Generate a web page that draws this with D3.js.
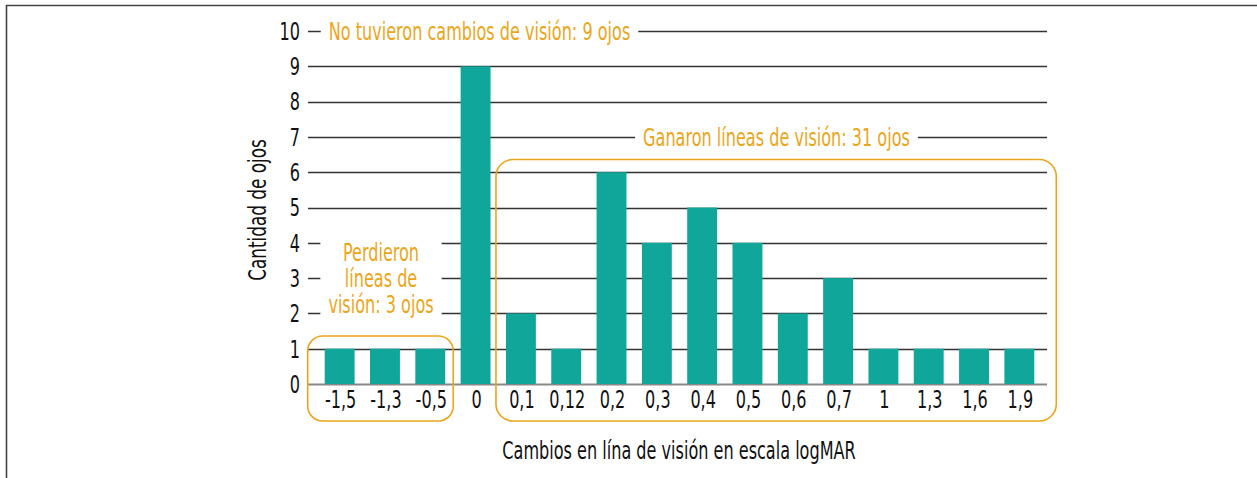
<!DOCTYPE html>
<html><head><meta charset="utf-8">
<script src="https://cdn.jsdelivr.net/npm/d3@7"></script>
<style>
body{margin:0;background:#fff;}
text{font-family:"DejaVu Sans Condensed","DejaVu Sans",sans-serif;font-stretch:condensed;}
</style></head>
<body><svg id="c" width="1257" height="478"></svg>
<script>
const categories = ["-1,5","-1,3","-0,5","0","0,1","0,12","0,2","0,3","0,4","0,5","0,6","0,7","1","1,3","1,6","1,9"];
const counts = [1,1,1,9,2,1,6,4,5,4,2,3,1,1,1,1];
const yTicks = [0,1,2,3,4,5,6,7,8,9,10];
const groupLabels = [
  ["No tuvieron cambios de visión: 9 ojos"],
  ["Ganaron líneas de visión: 31 ojos"],
  ["Perdieron","líneas de","visión: 3 ojos"]
];
const groupFrom = ["0","0,1","-1,5"];
const groupTo = ["0","1,9","-0,5"];
const groupLevel = [10, 7, 3];
const xTitle = "Cambios en lína de visión en escala logMAR";
const yTitle = "Cantidad de ojos";

const teal = "#11a69a", orange = "#eaa61b", ink = "#111";
const FS = 24, SX = 0.745;
const svg = d3.select("#c");

// frame
svg.append("path").attr("d","M6.5,478 V5.5 H1257").attr("fill","none").attr("stroke","#444").attr("stroke-width",1.6);

const x = d3.scaleBand().domain(categories).range([317,1042]).paddingInner(0.34).paddingOuter(0.17);
const y = d3.scaleLinear().domain([0,10]).range([384,31]);
const gx0 = 308, gx1 = 1047;

function ctext(parent, tx, ty, str, anchor, color, sx, rot){
  const g = parent.append("g").attr("transform",`translate(${tx},${ty})${rot?` rotate(${rot})`:""} scale(${sx},1)`);
  g.append("text").attr("x",0).attr("y",0).attr("text-anchor",anchor)
    .attr("font-size",FS).attr("fill",color).text(str);
  return g;
}

// gridlines
svg.append("g").selectAll("line").data(yTicks).join("line")
  .attr("x1",gx0).attr("x2",gx1).attr("y1",d=>Math.round(y(d))+0.5).attr("y2",d=>Math.round(y(d))+0.5)
  .attr("stroke",d=>d===0?"#888":"#333").attr("stroke-width",d=>d===0?2:1.3);

// y tick labels
const gy = svg.append("g");
yTicks.forEach(d=>ctext(gy, 300, y(d)+8.8, d, "end", ink, SX));

// bars
svg.append("g").selectAll("rect").data(categories).join("rect")
  .attr("x",d=>x(d)).attr("width",x.bandwidth())
  .attr("y",(d,i)=>y(counts[i])).attr("height",(d,i)=>y(0)-y(counts[i]))
  .attr("fill",teal);

// x tick labels
const gxl = svg.append("g");
categories.forEach(d=>ctext(gxl, x(d)+x.bandwidth()/2+1, 408, d, "middle", ink, SX));

// axis titles
ctext(svg, 679, 459, xTitle, "middle", ink, SX);
ctext(svg, 266, 210, yTitle, "middle", ink, 0.78, -90);

// group boxes
const bw = x.bandwidth();
svg.append("rect").attr("x",x(groupFrom[2])-17).attr("y",336)
  .attr("width",x(groupTo[2])+bw+8-(x(groupFrom[2])-17)).attr("height",85)
  .attr("rx",15).attr("fill","none").attr("stroke",orange).attr("stroke-width",1.6);
svg.append("rect").attr("x",x(groupFrom[1])-10).attr("y",159.5)
  .attr("width",x(groupTo[1])+bw+22-(x(groupFrom[1])-10)).attr("height",421-159.5)
  .attr("rx",17).attr("fill","none").attr("stroke",orange).attr("stroke-width",1.6);

// annotations
function annot(lines, cx, cy, lh){
  const g = svg.append("g");
  const bg = g.append("rect").attr("fill","#fff");
  lines.forEach((s,i)=>ctext(g, cx, cy+(i-(lines.length-1)/2)*lh+8.8, s, "middle", orange, SX));
  const bb = g.node().getBBox();
  bg.attr("x",bb.x-8).attr("y",bb.y-2).attr("width",bb.width+16).attr("height",bb.height+4);
}
annot(groupLabels[0], 479.5, y(groupLevel[0]), 26);
annot(groupLabels[1], 776.5, y(groupLevel[1]), 26);
annot(groupLabels[2], 381, y(groupLevel[2])+0.5, 26);
</script></body></html>
